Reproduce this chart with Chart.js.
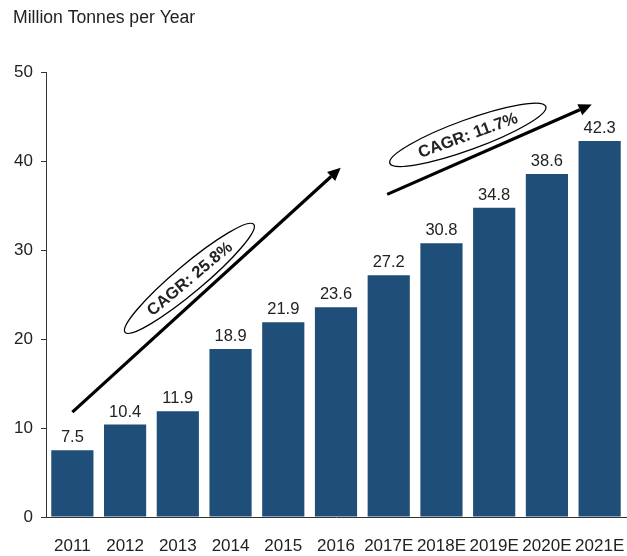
<!DOCTYPE html>
<html><head><meta charset="utf-8">
<script src="https://cdn.jsdelivr.net/npm/chart.js@4.4.1/dist/chart.umd.min.js"></script>
<style>html,body{margin:0;padding:0;background:#fff}</style>
</head><body>
<canvas id="c" width="627" height="556"></canvas>
<script>
const categories = ['2011','2012','2013','2014','2015','2016','2017E','2018E','2019E','2020E','2021E'];
const values = [7.5,10.4,11.9,18.9,21.9,23.6,27.2,30.8,34.8,38.6,42.3];
const yMin = 0, yMax = 50, yStep = 10;
const unitLabel = 'Million Tonnes per Year';
const cagrLabels = ['CAGR: 25.8%','CAGR: 11.7%'];

const FONT = '"Liberation Sans", Arial, Helvetica, sans-serif';
const TXT = '#222';

// annotation placement in data coordinates (category index, value)
const annotations = [
  {label: cagrLabels[0], from:[0.0,11.8], to:[5.09,39.3], center:[2.22,26.85], angle:-40, rx:84, ry:14},
  {label: cagrLabels[1], from:[5.97,36.3], to:[9.85,46.4], center:[7.5,43.0], angle:-20, rx:83, ry:15}
];

const dataLabelPlugin = {
  id:'dataLabels',
  afterDatasetsDraw(chart){
    const ctx = chart.ctx;
    const meta = chart.getDatasetMeta(0);
    ctx.save();
    ctx.fillStyle = TXT;
    ctx.font = '16.5px ' + FONT;
    ctx.textAlign = 'center';
    ctx.textBaseline = 'alphabetic';
    meta.data.forEach((bar,i)=>{
      ctx.fillText(values[i].toFixed(1), bar.x, bar.y - 8);
    });
    ctx.restore();
  }
};

const annoPlugin = {
  id:'anno',
  afterDraw(chart){
    const {ctx, scales:{x,y}} = chart;
    const P = (p)=>[x.getPixelForValue(p[0]), y.getPixelForValue(p[1])];
    annotations.forEach(a=>{
      const [x1,y1] = P(a.from), [x2,y2] = P(a.to);
      const ang = Math.atan2(y2-y1, x2-x1);
      const head = 13, hw = 6;
      const bx = x2 - head*Math.cos(ang), by = y2 - head*Math.sin(ang);
      ctx.save();
      ctx.strokeStyle = '#000';
      ctx.fillStyle = '#000';
      ctx.lineWidth = 3.2;
      ctx.beginPath();
      ctx.moveTo(x1,y1);
      ctx.lineTo(bx,by);
      ctx.stroke();
      ctx.beginPath();
      ctx.moveTo(x2,y2);
      ctx.lineTo(bx + hw*Math.sin(ang), by - hw*Math.cos(ang));
      ctx.lineTo(bx - hw*Math.sin(ang), by + hw*Math.cos(ang));
      ctx.closePath();
      ctx.fill();
      const [cx,cy] = P(a.center);
      const rot = a.angle*Math.PI/180;
      ctx.translate(cx,cy);
      ctx.rotate(rot);
      ctx.fillStyle = '#fff';
      ctx.lineWidth = 1.3;
      ctx.beginPath();
      ctx.ellipse(0,0,a.rx,a.ry,0,0,Math.PI*2);
      ctx.fill();
      ctx.stroke();
      ctx.fillStyle = TXT;
      ctx.font = 'bold 16.5px ' + FONT;
      ctx.textAlign = 'center';
      ctx.textBaseline = 'middle';
      ctx.fillText(a.label, 0, 1);
      ctx.restore();
    });
  }
};

new Chart(document.getElementById('c'), {
  type:'bar',
  data:{
    labels: categories,
    datasets:[{data: values, backgroundColor:'#1f4e79', borderWidth:0, barPercentage:0.8, categoryPercentage:1.0}]
  },
  options:{
    responsive:false,
    animation:false,
    devicePixelRatio:1,
    layout:{padding:{left:13, right:1, top:0, bottom:0}},
    plugins:{
      legend:{display:false},
      tooltip:{enabled:false},
      title:{display:true, text: unitLabel, align:'start', color:TXT,
        font:{family:FONT, size:17.6, weight:'normal'}, padding:{top:8, bottom:43.5}}
    },
    scales:{
      x:{
        grid:{display:false, drawTicks:true, tickLength:17},
        border:{display:true, color:'#333', width:1},
        ticks:{color:TXT, font:{family:FONT, size:17}, padding:2, maxRotation:0, autoSkip:false},
        afterFit(scale){ scale.height = 39; scale.paddingLeft = 0; scale.paddingRight = 0; }
      },
      y:{
        min:yMin, max:yMax,
        grid:{drawOnChartArea:false, drawTicks:true, tickLength:5, color:'#333'},
        border:{display:true, color:'#333', width:1},
        ticks:{stepSize:yStep, color:TXT, font:{family:FONT, size:17}, padding:8},
        afterFit(scale){ scale.width = 33; }
      }
    }
  },
  plugins:[dataLabelPlugin, annoPlugin]
});
</script>
</body></html>
